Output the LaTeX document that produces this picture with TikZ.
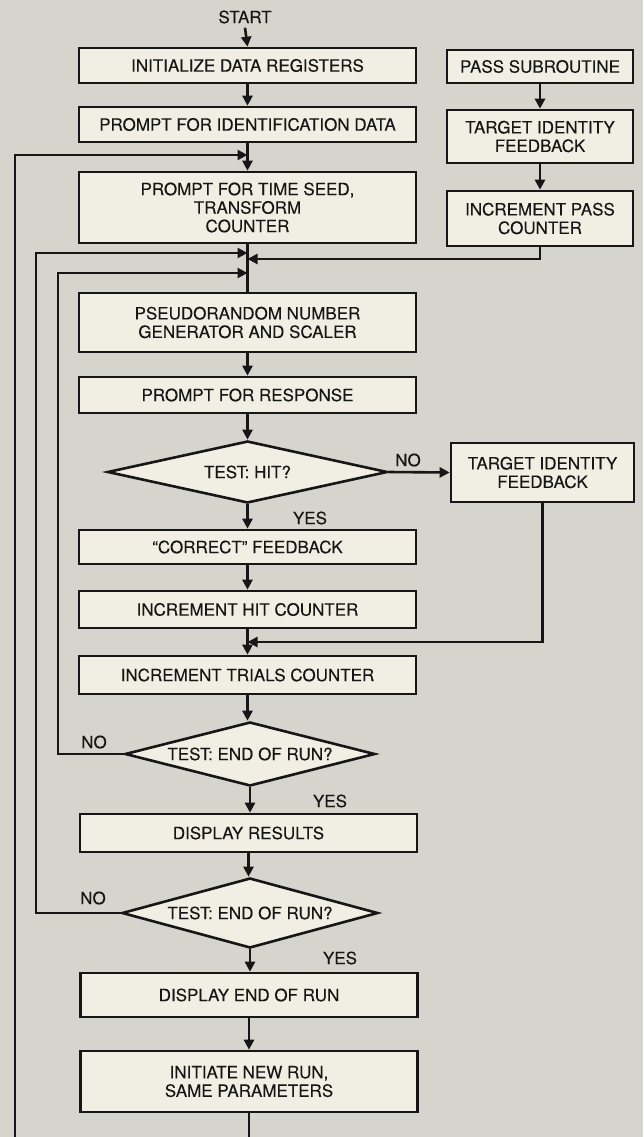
\documentclass[tikz,border=0pt]{standalone}
\usepackage{fontspec}
\setmainfont{TeX Gyre Heros}[FakeBold=0.12]
\usetikzlibrary{shapes.geometric,arrows.meta,calc}
\definecolor{paper}{HTML}{D5D4CD}
\definecolor{boxfill}{HTML}{F1EFE3}
\definecolor{ink}{HTML}{161616}
\begin{document}
\begin{tikzpicture}[x=1pt,y=-1pt,
  txt/.style={text=ink,font=\fontsize{17}{18.5}\selectfont},
  box/.style={txt,draw=ink,fill=boxfill,line width=2.6pt,rectangle,inner sep=0pt,align=center},
  mainbox/.style={box,minimum width=337pt},
  sidebox/.style={box,minimum width=186pt},
  dec/.style={txt,draw=ink,fill=boxfill,line width=2.6pt,diamond,aspect=4.5,inner sep=0pt},
  conn/.style={draw=ink,line width=2.6pt},
  arr/.style={conn,-{Triangle[length=10pt,width=10pt]}},
  lbl/.style={txt,inner sep=0pt}]
\fill[paper] (0,0) rectangle (643,1137);
\useasboundingbox (0,0) rectangle (643,1137);

% main column
\node[lbl] (start) at (245,17) {START};
\node[mainbox,minimum height=35pt] (init) at (247.5,65.5) {INITIALIZE DATA REGISTERS};
\node[mainbox,minimum height=35pt] (pid) at (247.5,124.5) {PROMPT FOR IDENTIFICATION DATA};
\node[mainbox,minimum height=71pt] (seed) at (247.5,207.5) {PROMPT FOR TIME SEED,\\TRANSFORM\\COUNTER};
\node[mainbox,minimum height=59pt] (pseudo) at (247.5,322.5) {PSEUDORANDOM NUMBER\\GENERATOR AND SCALER};
\node[mainbox,minimum height=36pt] (resp) at (247.5,395) {PROMPT FOR RESPONSE};
\node[dec,minimum width=280pt,minimum height=62pt] (hit) at (247.5,472) {TEST: HIT?};
\node[mainbox,minimum height=34pt] (correct) at (247.5,547) {“CORRECT” FEEDBACK};
\node[mainbox,minimum height=37pt] (hitc) at (247.5,609.5) {INCREMENT HIT COUNTER};
\node[mainbox,minimum height=38pt] (trials) at (247.5,675) {INCREMENT TRIALS COUNTER};
\node[dec,minimum width=250pt,minimum height=64pt] (end1) at (250,754) {TEST: END OF RUN?};
\node[mainbox,minimum height=38pt] (results) at (248.5,833) {DISPLAY RESULTS};
\node[dec,minimum width=256pt,minimum height=70pt] (end2) at (250,913) {TEST: END OF RUN?};
\node[mainbox,minimum height=44pt] (endrun) at (249,995) {DISPLAY END OF RUN};
\node[mainbox,minimum height=61pt] (newrun) at (249,1081.5) {INITIATE NEW RUN,\\SAME PARAMETERS};

% side column
\node[sidebox,minimum height=33pt] (pass) at (540,66.5) {PASS SUBROUTINE};
\node[sidebox,minimum height=53pt] (tgt1) at (540,136.5) {TARGET IDENTITY\\FEEDBACK};
\node[sidebox,minimum height=55pt] (incpass) at (540,218.5) {INCREMENT PASS\\COUNTER};
\node[box,minimum width=183pt,minimum height=59pt] (tgt2) at (542.5,472.5) {TARGET IDENTITY\\FEEDBACK};

% junction points on the main line
\coordinate (j1) at (247.5,155);
\coordinate (j2) at (247.5,253);
\coordinate (j3) at (247.5,259);
\coordinate (j4) at (247.5,273);
\coordinate (j5) at (247.5,642);
\coordinate (bot) at (249,1160);

% labels
\node[lbl] (no1) at (408,460) {NO};
\node[lbl] (yes1) at (310,518) {YES};
\node[lbl] (no2) at (94,742) {NO};
\node[lbl] (yes2) at (330,801) {YES};
\node[lbl] (no3) at (93,898) {NO};
\node[lbl] (yes3) at (340,958) {YES};

% connectors
\draw[arr] (start.south) ++(0,4) -- (init.north);
\draw[arr] (init) -- (pid);
\draw[arr] (pid) -- (seed);
\draw[conn] (seed) -- (pseudo);
\draw[arr] (pseudo) -- (resp);
\draw[arr] (resp) -- (hit);
\draw[arr] (hit) -- (correct);
\draw[arr] (hit.east) -- (tgt2.west);
\draw[arr] (correct) -- (hitc);
\draw[arr] (hitc) -- (trials.north -| hitc.south);
\draw[arr] (trials.south) -- (trials.south |- end1.north);
\draw[arr] (end1.south) -- (end1.south |- results.north);
\draw[arr] (results.south) -- (results.south |- end2.north);
\draw[arr] (end2.south) -- (end2.south |- endrun.north);
\draw[arr] (endrun) -- (newrun);

\draw[arr] (pass) -- (tgt1);
\draw[arr] (tgt1) -- (incpass);

% loops
\draw[arr] (newrun.south) -- (bot) -| (15,155) -- (j1);
\draw[arr] (end2.west) -| (36,253) -- (j2);
\draw[arr] (incpass.south) |- (j3);
\draw[arr] (end1.west) -| (58,273) -- (j4);
\draw[arr] (tgt2.south) |- (j5);
\end{tikzpicture}
\end{document}
